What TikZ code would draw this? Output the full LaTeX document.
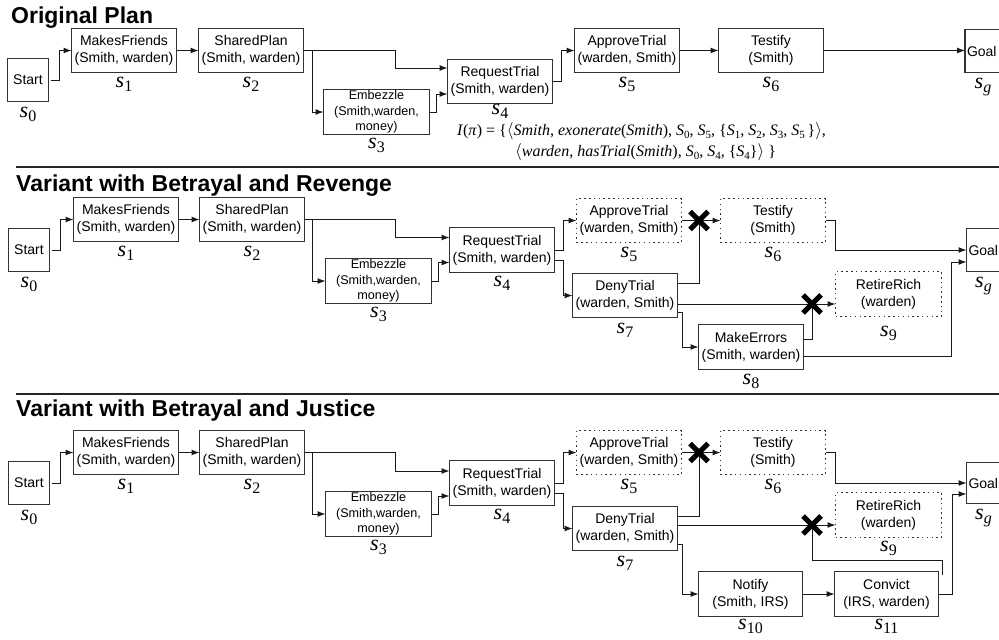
\documentclass[tikz,border=0pt]{standalone}
\usepackage{fontspec}
\setmainfont{Liberation Sans}
\newfontfamily\serifit{Liberation Serif}
\usetikzlibrary{arrows.meta,shapes.misc}
\newcommand{\bfnt}{\fontsize{14}{17}\selectfont}
\newcommand{\efnt}{\fontsize{12.6}{15.5}\selectfont}
\newcommand{\sname}[1]{{\serifit\fontsize{22}{22}\selectfont\itshape s}\raisebox{-3.5pt}{\serifit\fontsize{16}{16}\selectfont #1}}
\newcommand{\fsub}[1]{\raisebox{-2.8pt}{\fontsize{11}{11}\selectfont #1}}
\newcommand{\fit}[1]{\textit{#1}}
\begin{document}
\begin{tikzpicture}[x=1pt,y=-1pt,
 box/.style={draw=black!80, line width=1.1pt, inner sep=0pt, outer sep=0pt, align=center, font=\bfnt, minimum width=105pt, minimum height=44pt},
 dbox/.style={box, dash pattern=on 1.5pt off 3.3pt},
 ebox/.style={box, font=\efnt, minimum width=106pt, minimum height=45pt},
 sbox/.style={box, minimum width=41pt, minimum height=43pt},
 gbox/.style={box, minimum width=40pt, minimum height=43pt, text width=36pt, align=left},
 lab/.style={anchor=base, inner sep=0pt},
 arr/.style={-{Latex[length=8pt,width=6pt]}, line width=1pt, draw=black!90},
 ln/.style={line width=1pt, draw=black!90},
 xmark/.style={cross out, draw=black, line width=5pt, minimum size=13pt, inner sep=0pt},
 sep/.style={line width=1.2pt, draw=black!85},
 title/.style={anchor=base west, inner sep=0pt, font=\fontsize{23}{23}\selectfont\bfseries},
 formula/.style={anchor=base west, inner sep=0pt, font=\serifit\fontsize{16}{17}\selectfont}
]
\useasboundingbox (0,0) rectangle (999,640);

% titles and separators
\node[title] (t1) at (11,23) {Original Plan};
\node[title] (t2) at (16,191) {Variant with Betrayal and Revenge};
\node[title] (t3) at (16,416) {Variant with Betrayal and Justice};
\draw[sep] (16,167) -- (999,167);
\draw[sep] (16,394) -- (999,394);

% ---------------- Row 1 ----------------
\node[sbox] (st1) at (28,80) {Start};
\node[box] (mf1) at (124,50.5) {MakesFriends\\(Smith, warden)};
\node[box] (sp1) at (251,50.5) {SharedPlan\\(Smith, warden)};
\node[ebox] (em1) at (376.5,112) {Embezzle\\(Smith,warden,\\money)};
\node[box] (rq1) at (500,81.5) {RequestTrial\\(Smith, warden)};
\node[box] (ap1) at (627,50.5) {ApproveTrial\\(warden, Smith)};
\node[box] (te1) at (771,50.5) {Testify\\(Smith)};
\node[gbox] (go1) at (985,51) {Goal};

\node[lab] at ([yshift=-16pt]st1.south) {\sname{0}};
\node[lab] at ([yshift=-15pt]mf1.south) {\sname{1}};
\node[lab] at ([yshift=-15pt]sp1.south) {\sname{2}};
\node[lab] at ([yshift=-14pt]em1.south) {\sname{3}};
\node[lab] at ([yshift=-11pt]rq1.south) {\sname{4}};
\node[lab] at ([yshift=-15pt]ap1.south) {\sname{5}};
\node[lab] at ([yshift=-15pt]te1.south) {\sname{6}};
\node[lab] at ([xshift=-2pt,yshift=-16pt]go1.south) {\sname{\itshape g}};

\draw[arr] ([xshift=2pt]st1.east) -- ++(9,0) |- (mf1.west);
\draw[arr] (mf1.east) -- (sp1.west);
\draw[arr] (sp1.east) -- ++(92,0) |- ([yshift=13.5pt]rq1.west);
\draw[arr] (sp1.east) ++(9,0) |- (em1.west);
\draw[arr] (em1.east) -- ++(7,0) |- ([yshift=-12.5pt]rq1.west);
\draw[arr] (rq1.east) -- ++(9,0) |- (ap1.west);
\draw[arr] (ap1.east) -- (te1.west);
\draw[arr] (te1.east) -- (te1.east -| go1.west);

\node[formula] (f1) at (457,135.5) {\fit{I}(\fit{π}) = \{$\langle$\fit{Smith}, \fit{exonerate}(\fit{Smith}), \fit{S}\fsub{0}, \fit{S}\fsub{5}, \{\fit{S}\fsub{1}, \fit{S}\fsub{2}, \fit{S}\fsub{3}, \fit{S}\fsub{5}\,\}$\rangle$,};
\node[formula] (f2) at (515,156.5) {$\langle$\fit{warden}, \fit{hasTrial}(\fit{Smith}), \fit{S}\fsub{0}, \fit{S}\fsub{4}, \{\fit{S}\fsub{4}\}$\rangle$ \}};

% ---------------- Row 2 ----------------
\node[sbox] (st2) at (29,250) {Start};
\node[box] (mf2) at (126,219.5) {MakesFriends\\(Smith, warden)};
\node[box] (sp2) at (252,219.5) {SharedPlan\\(Smith, warden)};
\node[ebox] (em2) at (378.5,281) {Embezzle\\(Smith,warden,\\money)};
\node[box, minimum height=45pt] (rq2) at (502,250) {RequestTrial\\(Smith, warden)};
\node[dbox] (ap2) at (629,220.5) {ApproveTrial\\(warden, Smith)};
\node[box] (dn2) at (625,295.5) {DenyTrial\\(warden, Smith)};
\node[dbox] (te2) at (773,220.5) {Testify\\(Smith)};
\node[box, minimum height=45pt] (me2) at (751,347) {MakeErrors\\(Smith, warden)};
\node[dbox, minimum width=106pt, minimum height=45pt] (rr2) at (888.5,294) {RetireRich\\(warden)};
\node[gbox] (go2) at (986.5,250) {Goal};
\coordinate (x1) at (699,220.5);
\coordinate (x2) at (812,304);

\node[lab] at ([yshift=-16pt]st2.south) {\sname{0}};
\node[lab] at ([yshift=-15pt]mf2.south) {\sname{1}};
\node[lab] at ([yshift=-15pt]sp2.south) {\sname{2}};
\node[lab] at ([yshift=-14pt]em2.south) {\sname{3}};
\node[lab] at ([yshift=-14pt]rq2.south) {\sname{4}};
\node[lab] at ([yshift=-15pt]ap2.south) {\sname{5}};
\node[lab] at ([yshift=-15pt]te2.south) {\sname{6}};
\node[lab] at ([yshift=-16pt]dn2.south) {\sname{7}};
\node[lab] at ([yshift=-15pt]me2.south) {\sname{8}};
\node[lab] at ([yshift=-20pt]rr2.south) {\sname{9}};
\node[lab] at ([xshift=-3pt,yshift=-16pt]go2.south) {\sname{\itshape g}};

\draw[arr] ([xshift=2pt]st2.east) -- ++(9,0) |- (mf2.west);
\draw[arr] (mf2.east) -- (sp2.west);
\draw[arr] (sp2.east) -- ++(91,0) |- ([yshift=12.5pt]rq2.west);
\draw[arr] (sp2.east) ++(8,0) |- (em2.west);
\draw[arr] (em2.east) -- ++(7,0) |- ([yshift=-12.5pt]rq2.west);
\draw[arr] (rq2.east) -- ++(9,0) |- (ap2.west);
\draw[arr] ([yshift=-10pt]rq2.east) -- ++(9,0) |- (dn2.west);
\draw[arr] (ap2.east) -- (te2.west);
\draw[ln] ([yshift=12.5pt]dn2.east) -| (x1);
\draw[arr] ([yshift=-8.5pt]dn2.east) -- ([yshift=-10pt]rr2.west);
\draw[arr] ([yshift=-16.5pt]dn2.east) -- ++(5,0) |- (me2.west);
\draw[ln] ([yshift=8pt]me2.east) -| (x2);
\draw[arr] ([yshift=-9pt]me2.east) -- ++(148,0) |- ([yshift=-12pt]go2.west);
\draw[arr] (te2.east) -- ++(10,0) |- (go2.west);
\node[xmark] at (x1) {};
\node[xmark] at (x2) {};

% ---------------- Row 3 ----------------
\node[sbox] (st3) at (29,483) {Start};
\node[box] (mf3) at (126,452.5) {MakesFriends\\(Smith, warden)};
\node[box] (sp3) at (252,452.5) {SharedPlan\\(Smith, warden)};
\node[ebox] (em3) at (378.5,514) {Embezzle\\(Smith,warden,\\money)};
\node[box, minimum height=45pt] (rq3) at (502,483) {RequestTrial\\(Smith, warden)};
\node[dbox] (ap3) at (629,452.5) {ApproveTrial\\(warden, Smith)};
\node[box] (dn3) at (625,528.5) {DenyTrial\\(warden, Smith)};
\node[dbox] (te3) at (773,452.5) {Testify\\(Smith)};
\node[dbox, minimum width=106pt, minimum height=45pt] (rr3) at (888.5,515) {RetireRich\\(warden)};
\node[box, minimum width=104pt, minimum height=45pt] (nt3) at (750.5,594) {Notify\\(Smith, IRS)};
\node[box, minimum width=104pt, minimum height=45pt] (cv3) at (886.5,594) {Convict\\(IRS, warden)};
\node[gbox, minimum height=41pt] (go3) at (986.5,483) {Goal};
\coordinate (x3) at (699,452.5);
\coordinate (x4) at (812,525);

\node[lab] at ([yshift=-16pt]st3.south) {\sname{0}};
\node[lab] at ([yshift=-15pt]mf3.south) {\sname{1}};
\node[lab] at ([yshift=-15pt]sp3.south) {\sname{2}};
\node[lab] at ([yshift=-14pt]em3.south) {\sname{3}};
\node[lab] at ([yshift=-14pt]rq3.south) {\sname{4}};
\node[lab] at ([yshift=-15pt]ap3.south) {\sname{5}};
\node[lab] at ([yshift=-15pt]te3.south) {\sname{6}};
\node[lab] at ([yshift=-16pt]dn3.south) {\sname{7}};
\node[lab] at ([yshift=-14pt]rr3.south) {\sname{9}};
\node[lab] at ([yshift=-13pt]nt3.south) {\sname{10}};
\node[lab] at ([yshift=-13pt]cv3.south) {\sname{11}};
\node[lab] at ([xshift=-3pt,yshift=-16pt]go3.south) {\sname{\itshape g}};

\draw[arr] ([xshift=2pt]st3.east) -- ++(9,0) |- (mf3.west);
\draw[arr] (mf3.east) -- (sp3.west);
\draw[arr] (sp3.east) -- ++(91,0) |- ([yshift=12pt]rq3.west);
\draw[arr] (sp3.east) ++(8,0) |- (em3.west);
\draw[arr] (em3.east) -- ++(7,0) |- ([yshift=-13pt]rq3.west);
\draw[arr] (rq3.east) -- ++(9,0) |- (ap3.west);
\draw[arr] ([yshift=-10pt]rq3.east) -- ++(9,0) |- (dn3.west);
\draw[arr] (ap3.east) -- (te3.west);
\draw[ln] ([yshift=12.5pt]dn3.east) -| (x3);
\draw[arr] ([yshift=3.5pt]dn3.east) -- ([yshift=-10pt]rr3.west);
\draw[arr] ([yshift=-15.5pt]dn3.east) -- ++(5,0) |- (nt3.west);
\draw[arr] (nt3.east) -- (cv3.west);
\draw[ln] ([xshift=4pt,yshift=-3pt]cv3.north east) -- ++(0,-14) -| (x4);
\draw[arr] (cv3.east) -- ++(14,0) |- ([yshift=-11pt]go3.west);
\draw[arr] (te3.east) -- ++(10,0) |- (go3.west);
\node[xmark] at (x3) {};
\node[xmark] at (x4) {};
\end{tikzpicture}
\end{document}
